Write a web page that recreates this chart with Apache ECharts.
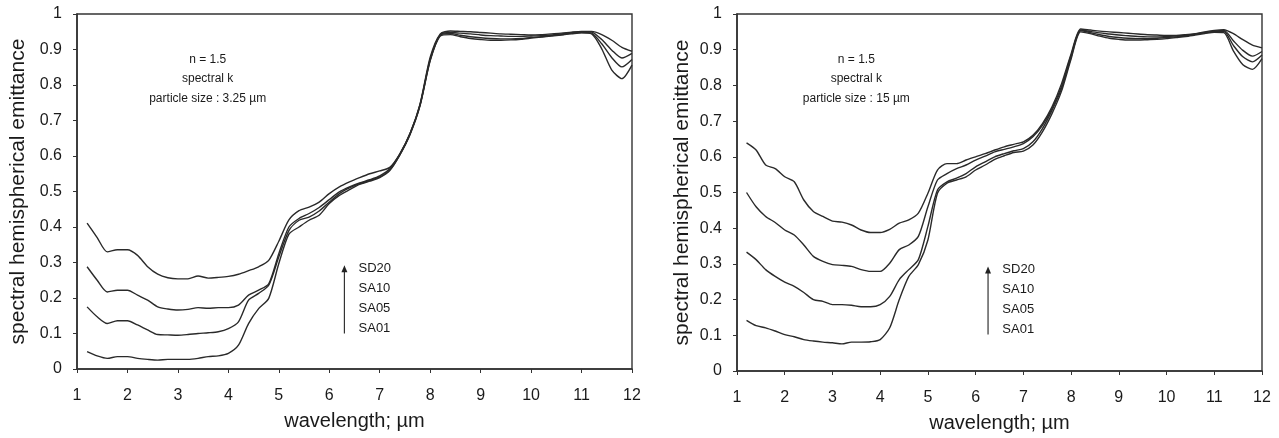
<!DOCTYPE html>
<html>
<head>
<meta charset="utf-8">
<title>Spectral hemispherical emittance</title>
<script src="https://cdn.jsdelivr.net/npm/echarts@6/dist/echarts.min.js"></script>
<style>
  html, body { margin: 0; padding: 0; background: #fff; }
  #chart { width: 1279px; height: 438px; }
</style>
</head>
<body>
<div id="chart"></div>
<script>
// Wavelength sampling (µm), shared by every curve
const wavelength = [
  1.2, 1.4, 1.6, 1.8, 2.0, 2.2, 2.4, 2.6, 2.8, 3.0,
  3.2, 3.4, 3.6, 3.8, 4.0, 4.2, 4.4, 4.6, 4.8, 5.0,
  5.2, 5.4, 5.6, 5.8, 6.0, 6.2, 6.4, 6.6, 6.8, 7.0,
  7.2, 7.4, 7.6, 7.8, 8.0, 8.2, 8.4, 8.6, 8.8, 9.0,
  9.2, 9.4, 9.6, 9.8, 10.0, 10.2, 10.4, 10.6, 10.8, 11.0,
  11.2, 11.4, 11.6, 11.8, 12.0
];

const sampleNames = ['SD20', 'SA10', 'SA05', 'SA01'];

// Particle size 3.25 µm
const small_SD20 = [
  .411, .370, .330, .336, .336, .320, .288, .267, .257, .254,
  .254, .262, .256, .258, .261, .267, .277, .288, .306, .360,
  .420, .446, .456, .470, .494, .513, .527, .539, .550, .558,
  .568, .606, .663, .747, .878, .944, .952, .951, .950, .948,
  .946, .944, .943, .942, .941, .942, .944, .946, .949, .951,
  .951, .942, .926, .906, .895
];
const small_SA10 = [
  .288, .250, .217, .222, .222, .208, .194, .175, .169, .166,
  .168, .173, .171, .173, .173, .180, .208, .222, .240, .325,
  .400, .424, .438, .455, .477, .499, .513, .524, .533, .544,
  .564, .606, .663, .745, .873, .942, .948, .946, .944, .941,
  .939, .938, .937, .937, .938, .939, .941, .944, .947, .950,
  .949, .928, .898, .876, .889
];
const small_SA05 = [
  .175, .147, .128, .136, .136, .124, .110, .097, .096, .095,
  .097, .100, .102, .105, .114, .133, .194, .213, .236, .316,
  .390, .419, .428, .445, .470, .494, .510, .522, .531, .541,
  .561, .604, .662, .744, .870, .940, .945, .940, .936, .933,
  .931, .930, .930, .931, .934, .936, .939, .942, .946, .948,
  .946, .916, .877, .851, .872
];
const small_SA01 = [
  .049, .037, .030, .035, .035, .030, .027, .025, .027, .027,
  .027, .030, .035, .037, .044, .067, .128, .170, .199, .297,
  .380, .400, .419, .433, .466, .489, .505, .520, .529, .539,
  .559, .603, .660, .742, .868, .938, .942, .936, .931, .928,
  .926, .926, .927, .929, .932, .935, .938, .941, .944, .947,
  .944, .902, .842, .818, .856
];

// Particle size 15 µm
const large_SD20 = [
  .639, .619, .577, .567, .544, .530, .479, .447, .433, .420,
  .417, .409, .395, .388, .388, .397, .414, .423, .442, .498,
  .563, .581, .581, .591, .600, .609, .619, .628, .635, .642,
  .660, .693, .740, .805, .888, .958, .955, .952, .950, .948,
  .946, .944, .942, .941, .940, .940, .942, .945, .950, .954,
  .956, .945, .928, .913, .905
];
const large_SA10 = [
  .500, .460, .433, .416, .395, .381, .353, .321, .307, .298,
  .296, .293, .284, .279, .279, .302, .340, .353, .377, .460,
  .535, .553, .567, .577, .591, .602, .614, .621, .628, .637,
  .656, .688, .735, .797, .884, .955, .951, .947, .944, .941,
  .939, .937, .936, .936, .937, .938, .940, .944, .948, .952,
  .954, .925, .898, .882, .895
];
const large_SA05 = [
  .333, .312, .284, .265, .249, .237, .220, .200, .195, .186,
  .186, .184, .180, .180, .186, .209, .256, .284, .312, .405,
  .507, .530, .540, .553, .572, .586, .600, .609, .617, .623,
  .642, .679, .730, .791, .879, .953, .948, .942, .937, .934,
  .932, .931, .931, .932, .934, .936, .939, .943, .947, .951,
  .951, .912, .880, .866, .885
];
const large_SA01 = [
  .142, .127, .121, .112, .102, .096, .088, .084, .081, .079,
  .076, .081, .081, .082, .088, .121, .200, .265, .298, .367,
  .498, .526, .535, .544, .563, .577, .593, .603, .612, .616,
  .633, .670, .721, .784, .874, .950, .945, .938, .932, .929,
  .927, .927, .928, .929, .931, .934, .937, .941, .945, .949,
  .948, .897, .858, .845, .875
];

const panelNotes = [
  ['n = 1.5', 'spectral k', 'particle size : 3.25 µm'],
  ['n = 1.5', 'spectral k', 'particle size : 15 µm']
];

const xTitle = 'wavelength; µm';
const yTitle = 'spectral hemispherical emittance';

const panels = [
  [small_SD20, small_SA10, small_SA05, small_SA01],
  [large_SD20, large_SA10, large_SA05, large_SA01]
];

const FONT = '"Liberation Sans", Arial, sans-serif';
const INK = '#1a1a1a';

const chart = echarts.init(document.getElementById('chart'), null, { renderer: 'canvas' });

function pairs(ys) {
  return wavelength.map((x, i) => [x, ys[i]]);
}

const grids = [
  { left: 77, right: 647, top: 14, bottom: 69 },
  { left: 737, right: 17, top: 14, bottom: 67 }
].map(g => Object.assign(g, {
  show: true, borderColor: '#333', borderWidth: 1.4, backgroundColor: 'transparent'
}));

const xAxes = [0, 1].map(i => ({
  type: 'value', gridIndex: i, min: 1, max: 12, interval: 1,
  name: xTitle, nameLocation: 'middle', nameGap: 42,
  nameTextStyle: { fontFamily: FONT, fontSize: 20, color: INK },
  axisLine: { show: true, onZero: false, lineStyle: { color: '#333', width: 1.6 } },
  axisTick: { show: true, inside: false, length: 4, lineStyle: { color: '#333' } },
  axisLabel: { fontFamily: FONT, fontSize: 16, color: INK, margin: 19 },
  splitLine: { show: false }
}));

const yAxes = [0, 1].map(i => ({
  type: 'value', gridIndex: i, min: 0, max: 1, interval: 0.1,
  name: yTitle, nameLocation: 'middle', nameRotate: 90, nameGap: i === 0 ? 48 : 44,
  nameTextStyle: { fontFamily: FONT, fontSize: 21, color: INK },
  axisLine: { show: true, lineStyle: { color: '#333', width: 1.6 } },
  axisTick: { show: true, inside: false, length: 4, lineStyle: { color: '#333' } },
  axisLabel: { fontFamily: FONT, fontSize: 16, color: INK, margin: 15 },
  splitLine: { show: false }
}));

const series = [];
panels.forEach((curves, p) => {
  curves.forEach((ys, k) => {
    series.push({
      name: sampleNames[k] + (p === 0 ? ' (3.25 µm)' : ' (15 µm)'),
      type: 'line', xAxisIndex: p, yAxisIndex: p,
      data: pairs(ys), showSymbol: false, smooth: 0.25,
      lineStyle: { color: '#2a2a2a', width: 1.4 },
      silent: true, animation: false
    });
  });
});

chart.setOption({
  backgroundColor: '#fff',
  animation: false,
  grid: grids,
  xAxis: xAxes,
  yAxis: yAxes,
  series: series
});

// Annotation anchors in data units: note block centre, arrow and key labels
const noteAnchor = [
  { x: 3.59, ys: [0.871, 0.817, 0.761] },
  { x: 3.50, ys: [0.872, 0.819, 0.763] }
];
const keyAnchor = [
  { arrowX: 6.30, from: 0.100, to: 0.292, labelX: 6.58, ys: [0.283, 0.227, 0.171, 0.114] },
  { arrowX: 6.26, from: 0.102, to: 0.293, labelX: 6.56, ys: [0.284, 0.228, 0.172, 0.116] }
];

const graphics = [];
[0, 1].forEach(p => {
  const px = (x, y) => chart.convertToPixel({ gridIndex: p }, [x, y]);
  const na = noteAnchor[p];
  panelNotes[p].forEach((txt, j) => {
    const pt = px(na.x, na.ys[j]);
    graphics.push({
      type: 'text', x: pt[0], y: pt[1],
      style: { text: txt, fontFamily: FONT, fontSize: 12, fill: INK, textAlign: 'center', textVerticalAlign: 'middle' }
    });
  });
  const ka = keyAnchor[p];
  const a0 = px(ka.arrowX, ka.from);
  const a1 = px(ka.arrowX, ka.to);
  graphics.push({
    type: 'line', shape: { x1: a0[0], y1: a0[1], x2: a1[0], y2: a1[1] + 5 },
    style: { stroke: '#333', lineWidth: 1.2 }
  });
  graphics.push({
    type: 'polygon', shape: { points: [[a1[0], a1[1]], [a1[0] - 3, a1[1] + 7], [a1[0] + 3, a1[1] + 7]] },
    style: { fill: '#222' }
  });
  sampleNames.forEach((nm, j) => {
    const pt = px(ka.labelX, ka.ys[j]);
    graphics.push({
      type: 'text', x: pt[0], y: pt[1],
      style: { text: nm, fontFamily: FONT, fontSize: 13, fill: INK, textAlign: 'left', textVerticalAlign: 'middle' }
    });
  });
});

chart.setOption({ graphic: graphics });
</script>
</body>
</html>
